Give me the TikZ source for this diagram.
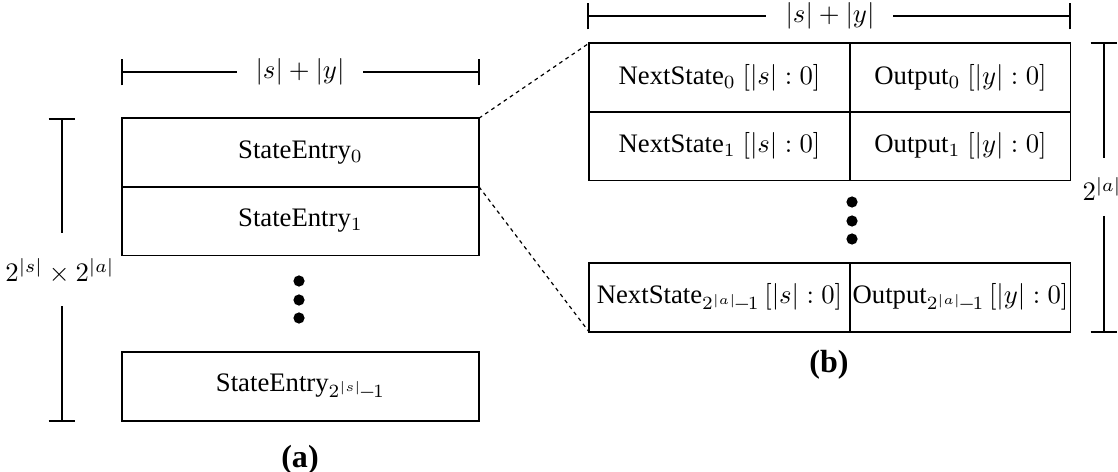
\documentclass[tikz,border=0pt]{standalone}
\usepackage{fontspec}
\setmainfont{Liberation Serif}
% compact exponent subscript used in the last rows
\newcommand{\lastidx}[1]{2^{|#1|}\mkern-2.5mu-\mkern-2mu1}
\begin{document}
\begin{tikzpicture}[x=0.3745pt, y=-0.3745pt,
  cell/.style={draw, line width=0.6pt, inner sep=0pt, outer sep=0pt, minimum height=25.7pt},
  dotmark/.style={circle, fill=black, inner sep=0pt, minimum size=4.2pt},
  zoomline/.style={line width=0.45pt, dash pattern=on 1.4pt off 1.4pt},
  dimline/.style={line width=0.6pt},
  dimlabel/.style={inner sep=0pt},
  caption/.style={font=\large\bfseries}]
\useasboundingbox (0,0) rectangle (1118,472);

% ---------- (a) state table ----------
\node[cell, minimum width=133.7pt] (e0) at (300.5,152.5) {StateEntry$_0$};
\node[cell, minimum width=133.7pt] (e1) at (300.5,221) {StateEntry$_1$};
\node[cell, minimum width=133.7pt] (en) at (300.5,386.5) {StateEntry$_{\lastidx{s}}$};
\node[dotmark] (ad1) at (299,281) {};
\node[dotmark] (ad2) at (299,300) {};
\node[dotmark] (ad3) at (299,318) {};
\node[caption] (capa) at (300,460) {(a)};

% width dimension of (a)
\node[dimlabel] (wa) at (300,72) {$|s|+|y|$};
\coordinate (waL) at (122,72);
\coordinate (waR) at (479,72);
\draw[dimline] (waL) -- (237,72) (363,72) -- (waR);
\draw[dimline] ([yshift=-5]waL) -- ([yshift=5]waL) ([yshift=-5]waR) -- ([yshift=5]waR);

% height dimension of (a)
\node[dimlabel] (ha) at (60,271) {$2^{|s|}\times 2^{|a|}$};
\coordinate (haT) at (62,119);
\coordinate (haB) at (62,421);
\draw[dimline] (haT) -- (62,233) (62,306) -- (haB);
\draw[dimline] ([xshift=-5]haT) -- ([xshift=5]haT) ([xshift=-5]haB) -- ([xshift=5]haB);

% ---------- (b) entry layout ----------
\node[cell, minimum width=97.75pt] (n0) at (719.5,77.5) {NextState$_0$ $[|s|:0]$};
\node[cell, minimum width=82.4pt] (o0) at (960.5,77.5) {Output$_0$ $[|y|:0]$};
\node[cell, minimum width=97.75pt] (n1) at (719.5,146) {NextState$_1$ $[|s|:0]$};
\node[cell, minimum width=82.4pt] (o1) at (960.5,146) {Output$_1$ $[|y|:0]$};
\node[cell, minimum width=97.75pt] (nn) at (719.5,297.5) {NextState$_{\lastidx{a}}$\,$[|s|:0]$};
\node[cell, minimum width=82.4pt] (on) at (960.5,297.5) {Output$_{\lastidx{a}}$\,$[|y|:0]$};
\node[dotmark] (bd1) at (852,202) {};
\node[dotmark] (bd2) at (852,221) {};
\node[dotmark] (bd3) at (852,239) {};
\node[caption] (capb) at (829,365) {(b)};

% width dimension of (b)
\node[dimlabel] (wb) at (830,16) {$|s|+|y|$};
\coordinate (wbL) at (588,16);
\coordinate (wbR) at (1070,16);
\draw[dimline] (wbL) -- (766,16) (893,16) -- (wbR);
\draw[dimline] ([yshift=-5]wbL) -- ([yshift=5]wbL) ([yshift=-5]wbR) -- ([yshift=5]wbR);

% height dimension of (b)
\node[dimlabel] (hb) at (1102,189) {$2^{|a|}$};
\coordinate (hbT) at (1104,43);
\coordinate (hbB) at (1104,332);
\draw[dimline] (hbT) -- (1104,158) (1104,216) -- (hbB);
\draw[dimline] ([xshift=-5]hbT) -- ([xshift=5]hbT) ([xshift=-5]hbB) -- ([xshift=5]hbB);

% zoom guides
\draw[zoomline] (e0.north east) -- (n0.north west);
\draw[zoomline] (e0.south east) -- (nn.south west);
\end{tikzpicture}
\end{document}
